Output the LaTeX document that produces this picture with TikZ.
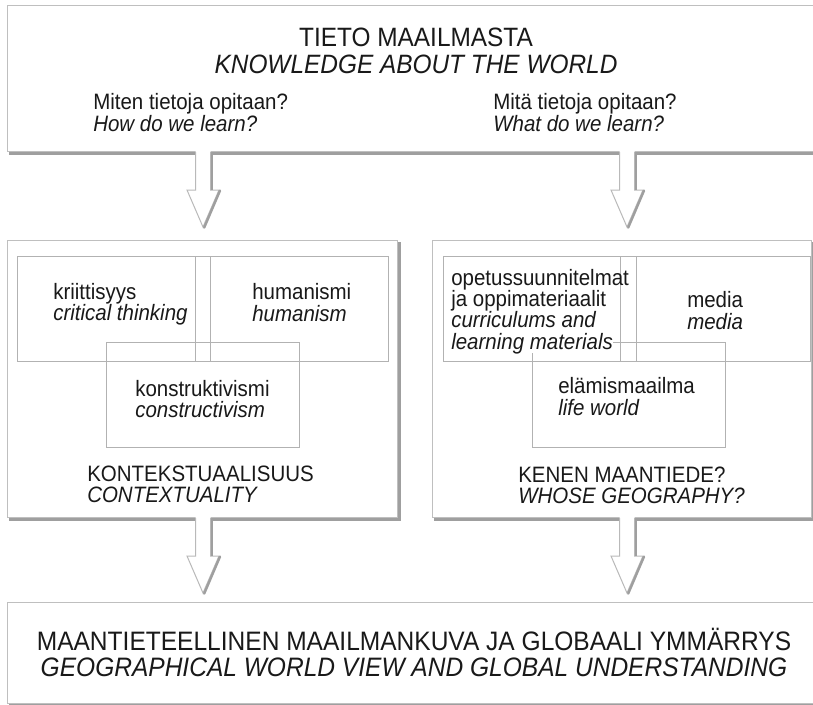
\documentclass[tikz,border=0pt]{standalone}
\usepackage{fontspec}
\setmainfont{Liberation Sans}[FakeStretch=0.92]
\usetikzlibrary{calc}
\newcommand\blockarrow[1]{%
  \fill[white] ([shift={(-7.5,-2.5)}]#1) -- ([shift={(-7.5,38)}]#1) -- ([shift={(-16,38)}]#1) -- ([shift={(0,75)}]#1) -- ([shift={(16,38)}]#1) -- ([shift={(7.5,38)}]#1) -- ([shift={(7.5,-2.5)}]#1) -- cycle;
  \draw[arrline] ([shift={(-7.5,0)}]#1) -- ([shift={(-7.5,38)}]#1) -- ([shift={(-16,38)}]#1) -- ([shift={(0,75)}]#1) -- ([shift={(16,38)}]#1) -- ([shift={(7.5,38)}]#1) -- ([shift={(7.5,0)}]#1);
  \draw[shadowline] ([shift={(8.8,0.5)}]#1) -- ([shift={(8.8,38)}]#1);
  \draw[shadowline, line cap=round] ([shift={(17,38.6)}]#1) -- ([shift={(1.2,75.6)}]#1);
}
\tikzset{
  bigbox/.style={rectangle, draw=gray!50, line width=0.75pt, fill=white, inner sep=0pt, anchor=north west},
  innerbox/.style={rectangle, draw=gray!60, line width=0.7pt, inner sep=0pt, anchor=north west, minimum width=144.75pt, minimum height=78.75pt},
  shadowline/.style={draw=gray!75, line width=1.8pt},
  arrline/.style={draw=gray!55, line width=0.75pt, line join=miter},
  txt/.style={inner sep=0pt, align=left, anchor=west, text=black!90, font=\fontsize{16.7}{16}\selectfont},
  qtxt/.style={txt, font=\fontsize{16.7}{14.6}\selectfont},
  titletxt/.style={inner sep=0pt, align=center, text=black!90, font=\fontsize{19.9}{20.25}\selectfont},
  bigtxt/.style={inner sep=0pt, align=center, text=black!90, font=\fontsize{20}{19.5}\selectfont},
}
\begin{document}
\begin{tikzpicture}[x=0.75pt,y=-0.75pt]
\useasboundingbox (0,0) rectangle (813,704);
\clip (0,0) rectangle (813,704);
\fill[white] (0,0) rectangle (813,704);

% main boxes
\node[bigbox, minimum width=606.75pt, minimum height=109.5pt] (tbox) at (7,5) {};
\node[bigbox, minimum width=292.5pt, minimum height=207.75pt] (midL) at (7,240) {};
\node[bigbox, minimum width=284.25pt, minimum height=207.75pt] (midR) at (432,240) {};
\node[bigbox, minimum width=606.75pt, minimum height=75.75pt] (bot) at (7,602) {};

% shadows
\draw[shadowline] ([shift={(2,1.3)}]tbox.south west) -- ([shift={(1.3,1.3)}]tbox.south east);
\draw[shadowline] ([shift={(2,1.3)}]midL.south west) -- ([shift={(1.3,1.3)}]midL.south east) -- ([shift={(1.3,2)}]midL.north east);
\draw[shadowline] ([shift={(2,1.3)}]midR.south west) -- ([shift={(1.3,1.3)}]midR.south east) -- ([shift={(1.3,2)}]midR.north east);
\draw[shadowline] ([shift={(2,1.3)}]bot.south west) -- ([shift={(1.3,1.3)}]bot.south east);

% inner boxes
\node[innerbox] (lA) at (17,256) {};
\node[innerbox] (lB) at (195,256) {};
\node[innerbox] (lC) at (106,342) {};
\node[innerbox] (rA) at (443,256) {};
\node[innerbox, minimum width=142.5pt] (rB) at (620,256) {};
\node[innerbox] (rC) at (532,342) {};
\fill[white] (530,337) rectangle (613,353);

% texts
\node[titletxt] (t1) at (416,51) {TIETO MAAILMASTA\\\textit{KNOWLEDGE ABOUT THE WORLD}};
\node[qtxt] (q1) at (93,112.7) {Miten tietoja opitaan?\\\textit{How do we learn?}};
\node[qtxt] (q2) at (493,112.7) {Mitä tietoja opitaan?\\\textit{What do we learn?}};
\node[txt] (k1) at (53,304.5) {kriittisyys\\\textit{critical thinking}};
\node[txt] (k2) at (252,302.5) {humanismi\\\textit{humanism}};
\node[txt] (k3) at (135,399) {konstruktivismi\\\textit{constructivism}};
\node[txt] (k4) at (87,484.5) {KONTEKSTUAALISUUS\\\textit{CONTEXTUALITY}};
\node[txt] (m1) at (451,311.5) {opetussuunnitelmat\\ja oppimateriaalit\\\textit{curriculums and}\\\textit{learning materials}};
\node[txt] (m2) at (687,310.5) {media\\\textit{media}};
\node[txt] (m3) at (558,396.5) {elämismaailma\\\textit{life world}};
\node[txt] (m4) at (518,485) {KENEN MAANTIEDE?\\\textit{WHOSE GEOGRAPHY?}};
\node[bigtxt] (b1) at (414,652.7) {MAANTIETEELLINEN MAAILMANKUVA JA GLOBAALI YMMÄRRYS\\\textit{GEOGRAPHICAL WORLD VIEW AND GLOBAL UNDERSTANDING}};

% arrows
\coordinate (axL) at (203,0);
\coordinate (axR) at (627,0);
\coordinate (a1) at (tbox.south -| axL);
\coordinate (a2) at (tbox.south -| axR);
\coordinate (a3) at (midL.south -| axL);
\coordinate (a4) at (midR.south -| axR);
\blockarrow{a1}
\blockarrow{a2}
\blockarrow{a3}
\blockarrow{a4}
\end{tikzpicture}
\end{document}
